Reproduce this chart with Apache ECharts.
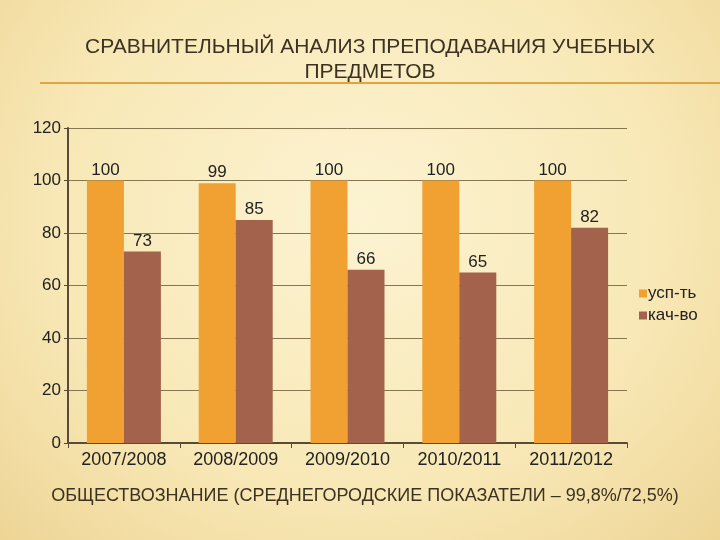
<!DOCTYPE html>
<html><head><meta charset="utf-8">
<script src="https://cdn.jsdelivr.net/npm/echarts@6/dist/echarts.min.js"></script>
<style>
html,body{margin:0;padding:0;}
#c{width:720px;height:540px;background:radial-gradient(ellipse at 50% 40%, #fcf3d2 0%, #f8e8b6 60%, #eed596 100%);}
</style></head>
<body><div id="c"></div>
<script>
var categories = ['2007/2008','2008/2009','2009/2010','2010/2011','2011/2012'];
var uspValues = [100, 99, 100, 100, 100];
var kachValues = [73, 85, 66, 65, 82];
var seriesNames = ['усп-ть','кач-во'];
var yTicks = [0,20,40,60,80,100,120];

var chart = echarts.init(document.getElementById('c'), null, {renderer:'canvas'});
var font = '"Liberation Sans", Arial, sans-serif';
chart.setOption({
  backgroundColor: 'transparent',
  title: [{
    text: 'СРАВНИТЕЛЬНЫЙ АНАЛИЗ ПРЕПОДАВАНИЯ УЧЕБНЫХ\nПРЕДМЕТОВ',
    left: 365, top: 30, textAlign: 'center',
    textStyle: {fontFamily: font, fontSize: 21, fontWeight: 'normal', color: '#3b3222', lineHeight: 25}
  },{
    text: 'ОБЩЕСТВОЗНАНИЕ (СРЕДНЕГОРОДСКИЕ ПОКАЗАТЕЛИ – 99,8%/72,5%)',
    left: 360, top: 482, textAlign: 'center',
    textStyle: {fontFamily: font, fontSize: 18, fontWeight: 'normal', color: '#3b3222'}
  }],
  graphic: [{
    type: 'line', shape: {x1: 40, y1: 83, x2: 720, y2: 83},
    style: {stroke: '#e0a443', lineWidth: 2}
  }],
  legend: {
    orient: 'vertical', left: 634, top: 280, itemWidth: 8, itemHeight: 8, itemGap: 5,
    icon: 'rect',
    textStyle: {fontFamily: font, fontSize: 17, color: '#222', padding: [0,0,0,-4]},
    data: seriesNames
  },
  grid: {left: 68, right: 93, top: 128, bottom: 97},
  xAxis: {
    type: 'category', data: categories,
    axisLine: {lineStyle: {color: '#5a4a38', width: 2}},
    axisTick: {show: true, length: 5, lineStyle: {color: '#5a4a38'}},
    axisLabel: {fontFamily: font, fontSize: 18, color: '#222', margin: 8}
  },
  yAxis: {
    type: 'value', min: 0, max: 120, interval: 20,
    axisLine: {show: true, lineStyle: {color: '#5a4a38', width: 2}},
    axisTick: {show: true, length: 4, lineStyle: {color: '#5a4a38'}},
    axisLabel: {fontFamily: font, fontSize: 17, color: '#222', margin: 7},
    splitLine: {lineStyle: {color: '#85764f', width: 1}}
  },
  series: [{
    name: seriesNames[0], type: 'bar', data: uspValues, barWidth: 37, barGap: '0%',
    itemStyle: {color: '#f0a132'},
    label: {show: true, position: 'top', distance: 2, fontFamily: font, fontSize: 17, color: '#222'}
  },{
    name: seriesNames[1], type: 'bar', data: kachValues, barWidth: 37,
    itemStyle: {color: '#a3624b'},
    label: {show: true, position: 'top', distance: 2, fontFamily: font, fontSize: 17, color: '#222'}
  }]
});
</script></body></html>
